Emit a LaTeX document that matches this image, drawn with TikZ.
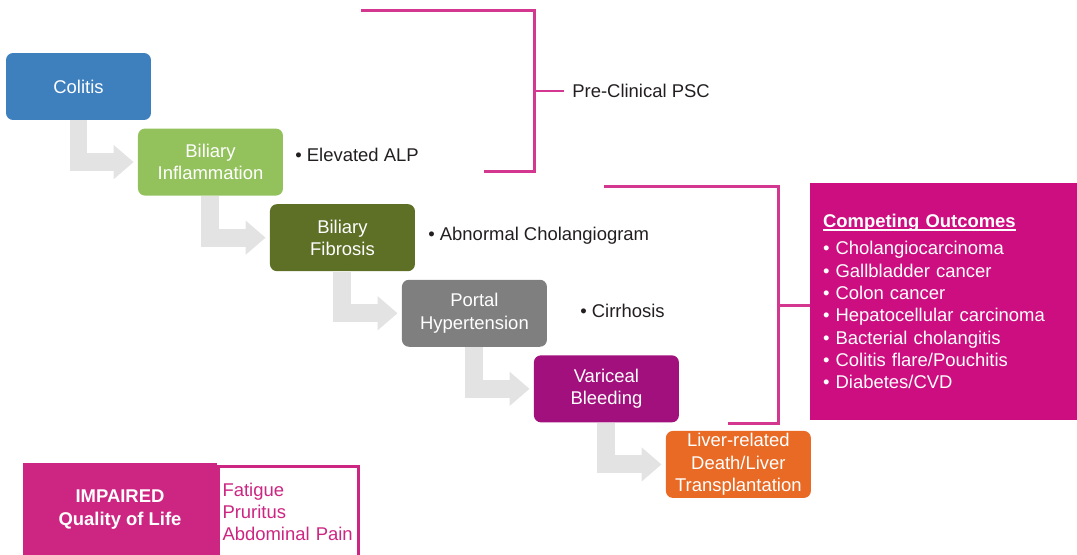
\documentclass[tikz,border=0pt]{standalone}
\usepackage{fontspec}
\setmainfont{Liberation Sans}
\usetikzlibrary{positioning,arrows.meta}
\newcommand{\titleline}[1]{\setbox0\hbox{#1}\rlap{\rule[-1.8pt]{\wd0}{0.8pt}}\box0}
\definecolor{colitisblue}{HTML}{3E80BD}
\definecolor{inflamgreen}{HTML}{93C25D}
\definecolor{fibrosisolive}{HTML}{5E6F26}
\definecolor{portalgray}{HTML}{7F7F7F}
\definecolor{varicealpurple}{HTML}{A2107D}
\definecolor{liverorange}{HTML}{E86A25}
\definecolor{outcomemagenta}{HTML}{CC0E80}
\definecolor{qolpink}{HTML}{CD2682}
\definecolor{bracketpink}{HTML}{D4378F}
\definecolor{arrowgray}{HTML}{E3E3E3}
\definecolor{notetext}{HTML}{231F20}

\begin{document}
\begin{tikzpicture}[x=0.02cm, y=-0.02cm, node distance = 1.512cm and 2.64cm, on grid,
    font=\fontsize{10.5pt}{12.7pt}\selectfont,
    stage/.style={rectangle, rounded corners=0.14cm, minimum width=2.9cm, minimum height=1.34cm, inner ysep=1pt, align=center, text=white},
    flow/.style={draw=arrowgray, line width=0.36cm, -{Triangle[length=0.4cm,width=0.66cm]}, shorten >=0.08cm},
    bracket/.style={draw=bracketpink, line width=0.06cm},
    note/.style={anchor=west, inner sep=0pt, text=notetext}]
    \useasboundingbox (0,0) rectangle (1077,554);
			 \node [stage, fill=colitisblue] (COL) at (78.5,86.5) {Colitis};
			 \node [stage, fill=inflamgreen] (INF) [below right =of COL] {Biliary\\Inflammation};
			 \node [stage, fill=fibrosisolive] (FIB) [below right =of INF] {Biliary\\Fibrosis};
			 \node [stage, fill=portalgray] (POR) [below right =of FIB] {Portal\\Hypertension};
			 \node [stage, fill=varicealpurple] (VAR) [below right =of POR] {Variceal\\Bleeding};
			 \node [stage, fill=liverorange] (LIV) [below right =of VAR] {Liver-related\\Death/Liver\\Transplantation};
			 \draw [flow] (COL.south) |- (INF.west);
			 \draw [flow] (INF.south) |- (FIB.west);
			 \draw [flow] (FIB.south) |- (POR.west);
			 \draw [flow] (POR.south) |- (VAR.west);
			 \draw [flow] (VAR.south) |- (LIV.west);
			 % findings next to the stages
			 \node [note] (ALP) at (295,155) {\textbullet\ Elevated ALP};
			 \node [note] (CHO) at (428,236) {\textbullet\ Abnormal Cholangiogram};
			 \node [note] (CIR) at (580,311) {\textbullet\ Cirrhosis};
			 % pre-clinical bracket
			 \draw [bracket] (361,11) -- (534,11) -- (534,171) -- (484,171);
			 \coordinate (PCT) at (534,91);
			 \node [anchor=west, inner sep=0.16cm, text=notetext] (PSC) at (564,91) {Pre-Clinical PSC};
			 \draw [bracket] (PCT) -- (PSC.west);
			 % competing outcomes
			 \node [fill=outcomemagenta, text=white, minimum width=5.34cm, minimum height=4.74cm, text width=4.82cm, inner xsep=0.26cm, align=left] (OUT) at (943.5,301.5)
			   {\titleline{\textbf{Competing Outcomes}}\\[3pt]
			    \textbullet\ Cholangiocarcinoma\\
			    \textbullet\ Gallbladder cancer\\
			    \textbullet\ Colon cancer\\
			    \textbullet\ Hepatocellular carcinoma\\
			    \textbullet\ Bacterial cholangitis\\
			    \textbullet\ Colitis flare/Pouchitis\\
			    \textbullet\ Diabetes/CVD};
			 \draw [bracket] (604,186) -- (778,186) -- (778,423) -- (728,423);
			 \coordinate (OCT) at (778,305);
			 \draw [bracket] (OCT) -- (OUT.west |- OCT);
			 % quality of life
			 \node [fill=qolpink, text=white, minimum width=3.88cm, minimum height=1.86cm, inner sep=0pt, align=center] (QOL) at (120,509.5) {\textbf{IMPAIRED}\\\textbf{Quality of Life}};
			 \node [fill=white, draw=qolpink, line width=0.06cm, text=qolpink, minimum width=2.8cm, minimum height=1.84cm, text width=2.64cm, inner xsep=0.08cm, align=left, anchor=north west] (SYM) at (217,464.5) {Fatigue\\Pruritus\\Abdominal Pain};
\end{tikzpicture}
\end{document}
